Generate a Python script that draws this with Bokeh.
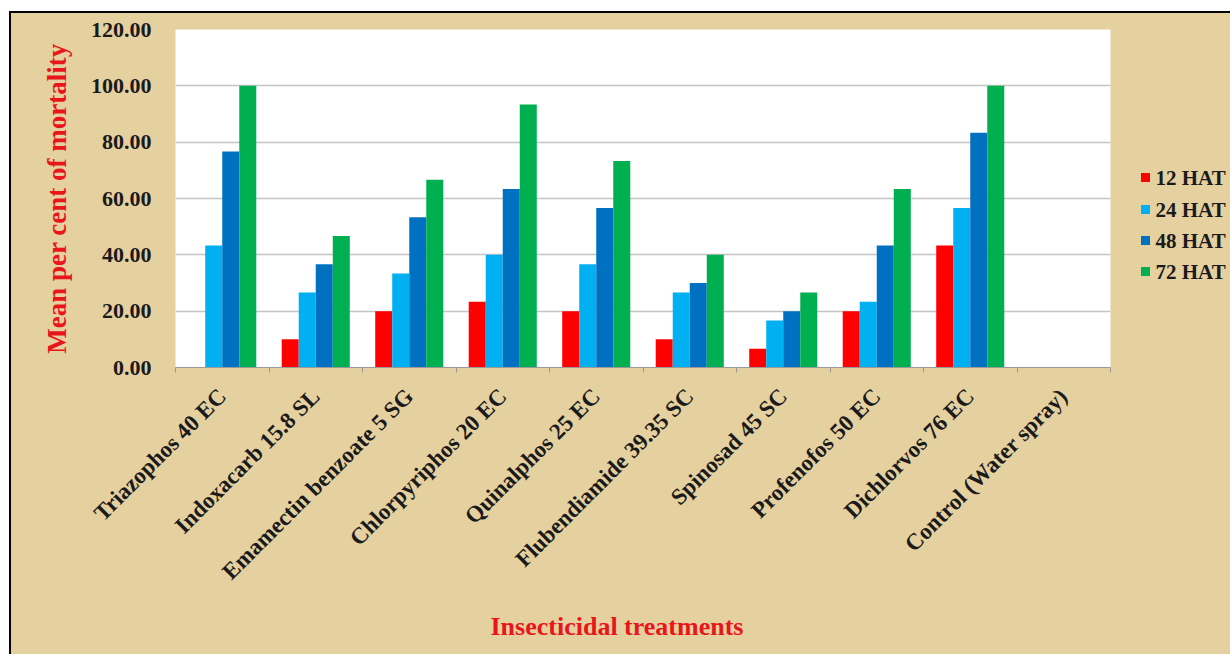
import math
from bokeh.plotting import figure
from bokeh.layouts import row
from bokeh.models import (FixedTicker, NumeralTickFormatter, Range1d, Title, ColumnDataSource)
from bokeh.core.properties import value
from bokeh.transform import dodge
from bokeh.embed import file_html
from bokeh.resources import INLINE

# ---- data ----
treatments = ["Triazophos 40 EC", "Indoxacarb 15.8 SL", "Emamectin benzoate 5 SG",
              "Chlorpyriphos 20 EC", "Quinalphos 25 EC", "Flubendiamide 39.35 SC",
              "Spinosad 45 SC", "Profenofos 50 EC", "Dichlorvos 76 EC",
              "Control (Water spray)"]
hat12 = [0.00, 10.00, 20.00, 23.33, 20.00, 10.00, 6.67, 20.00, 43.33, 0.00]
hat24 = [43.33, 26.67, 33.33, 40.00, 36.67, 26.67, 16.67, 23.33, 56.67, 0.00]
hat48 = [76.67, 36.67, 53.33, 63.33, 56.67, 30.00, 20.00, 43.33, 83.33, 0.00]
hat72 = [100.00, 46.67, 66.67, 93.33, 73.33, 40.00, 26.67, 63.33, 100.00, 0.00]
series_names = ["12 HAT", "24 HAT", "48 HAT", "72 HAT"]
y_ticks = [0, 20, 40, 60, 80, 100, 120]
x_title = "Insecticidal treatments"
y_title = "Mean per cent of mortality"

colors = ["#ff0000", "#00b0f0", "#0070c0", "#00b050"]
TAN = "#e5d09f"
FONT = "Liberation Serif"
RED = "#e8161b"
DARK = "#1a1a1a"

pos = list(range(len(treatments)))
src = ColumnDataSource(dict(x=pos, h12=hat12, h24=hat24, h48=hat48, h72=hat72))

p = figure(frame_width=935, frame_height=338, output_backend="svg", toolbar_location=None,
           x_range=Range1d(-0.5, len(treatments) - 0.5), y_range=Range1d(0, 120),
           min_border_left=164, min_border_right=10, min_border_top=16,
           min_border_bottom=287)
p.border_fill_color = TAN
p.background_fill_color = "white"
p.outline_line_color = None

bw = 0.182
offsets = [-1.5 * bw, -0.5 * bw, 0.5 * bw, 1.5 * bw]
for col, off, c in zip(["h12", "h24", "h48", "h72"], offsets, colors):
    p.vbar(x=dodge("x", off, range=p.x_range), top=col, width=bw, source=src,
           fill_color=c, line_color=None)

# y axis
p.yaxis.ticker = FixedTicker(ticks=y_ticks)
p.yaxis.formatter = NumeralTickFormatter(format="0.00")
p.yaxis.major_label_text_font = FONT
p.yaxis.major_label_text_font_style = "bold"
p.yaxis.major_label_text_font_size = "22px"
p.yaxis.major_label_text_color = DARK
p.yaxis.major_tick_line_color = None
p.yaxis.minor_tick_line_color = None
p.yaxis.axis_line_color = None
p.yaxis.major_label_standoff = 18
p.yaxis.axis_label = y_title
p.yaxis.axis_label_text_font = FONT
p.yaxis.axis_label_text_font_style = "bold"
p.yaxis.axis_label_text_font_size = "27px"
p.yaxis.axis_label_text_color = RED
p.yaxis.axis_label_standoff = 16

p.ygrid.ticker = FixedTicker(ticks=[20, 40, 60, 80, 100])
p.ygrid.grid_line_color = "#c4c4c4"
p.ygrid.grid_line_width = 1.5
p.xgrid.grid_line_color = None

# x axis
p.xaxis.ticker = FixedTicker(ticks=pos, minor_ticks=[i - 0.5 for i in range(len(treatments) + 1)])
p.xaxis.major_label_overrides = {i: t for i, t in enumerate(treatments)}
p.xaxis.major_label_orientation = math.pi / 4
p.xaxis.major_label_text_font = FONT
p.xaxis.major_label_text_font_style = "bold"
p.xaxis.major_label_text_font_size = "23px"
p.xaxis.major_label_text_color = DARK
p.xaxis.major_tick_line_color = None
p.xaxis.minor_tick_line_color = "#9a9a9a"
p.xaxis.minor_tick_out = 5
p.xaxis.minor_tick_in = 0
p.xaxis.axis_line_color = "#9a9a9a"
p.xaxis.major_label_standoff = 19

p.add_layout(Title(text=x_title, align="left", offset=315, standoff=26,
                   text_font=FONT, text_font_style="bold", text_font_size="26px",
                   text_color=RED), "below")

# ---- legend panel (separate figure; its frame is aligned with the main frame) ----
LW = 110
lg = figure(width=LW, height=641, output_backend="svg", toolbar_location=None,
            x_axis_location=None, y_axis_location=None,
            x_range=Range1d(0, LW), y_range=Range1d(367, 29),
            min_border_left=0, min_border_right=0, min_border_top=16,
            min_border_bottom=287, outline_line_color=None)
lg.border_fill_color = TAN
lg.background_fill_color = TAN
lg.grid.visible = False
row_y = [177, 209, 240, 271]
lsrc = ColumnDataSource(dict(y=row_y, c=colors, name=series_names,
                             sx=[25] * 4, tx=[35] * 4))
lg.scatter(x="sx", y="y", marker="square", size=9, fill_color="c", line_color=None, source=lsrc)
lg.text(x="tx", y="y", text="name", source=lsrc, text_font=value(FONT),
        text_font_style="bold", text_font_size="21px", text_color=DARK,
        text_baseline="middle", text_align="left")

layout = row(p, lg, spacing=0)
layout.styles = {"margin-left": "9px", "margin-top": "11px",
                 "border-left": "2px solid black", "border-top": "2px solid black",
                 "background-color": TAN}

open("out.html", "w").write(file_html(layout, INLINE))
